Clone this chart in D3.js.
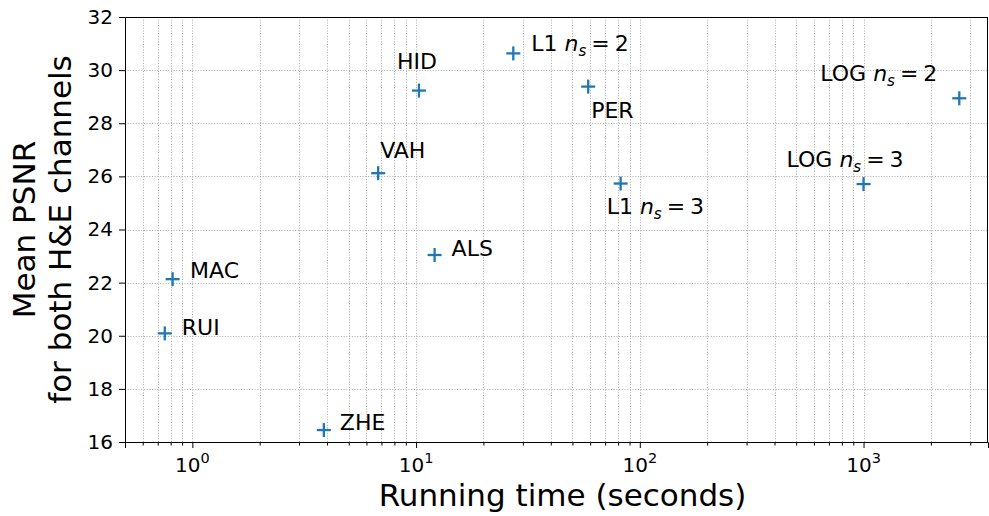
<!DOCTYPE html>
<html><head><meta charset="utf-8">
<script src="https://cdn.jsdelivr.net/npm/d3@7"></script>
<style>body{margin:0;background:#fff;} svg{display:block;font-family:"DejaVu Sans",sans-serif;}</style>
</head><body><svg id="c" width="989" height="516"></svg>
<script>
// ---- data ----
const methods = ["RUI", "MAC", "ZHE", "VAH", "HID", "ALS", "L1 $n_s=2$", "PER", "L1 $n_s=3$", "LOG $n_s=3$", "LOG $n_s=2$"];
const runningTime = [0.753, 0.816, 3.87, 6.77, 10.3, 12.1, 27.2, 58.8, 82.1, 1000, 2679];
const meanPSNR = [20.09, 22.13, 16.45, 26.12, 29.23, 23.04, 30.63, 29.38, 25.73, 25.71, 28.94];
const yTicks = [16, 18, 20, 22, 24, 26, 28, 30, 32];
const xMajorTicks = [1, 10, 100, 1000];
const xDomain = [0.5, 3600];
const yDomain = [16, 32];
// annotation text offsets (px) relative to each marker: [dx, baseline dy]
const labelOffsets = [[17, 1.5], [17.5, -1], [16, 0], [2, -15], [-22, -22], [17, 1], [18, -2], [3, 31], [-14, 30], [-77, -17], [-139, -17]];

const svg = d3.select("#c");
const L = 125, R = 988, T = 17, B = 442;
const x = d3.scaleLog().domain(xDomain).range([L, R]);
const y = d3.scaleLinear().domain(yDomain).range([B, T]);
const blue = "#1f77b4";

// minor ticks
const minor = [];
for (let e = -1; e <= 3; e++) for (let m = 2; m <= 9; m++) {
  const v = m * Math.pow(10, e);
  if (v >= xDomain[0] && v <= xDomain[1]) minor.push(v);
}
const allX = minor.concat(xMajorTicks);

// grid
const grid = svg.append("g").attr("stroke", "#aaaaaa").attr("stroke-width", 1).attr("stroke-dasharray", "1,1.7");
grid.selectAll("line.gx").data(allX).join("line")
  .attr("x1", d => Math.round(x(d)) + 0.5).attr("x2", d => Math.round(x(d)) + 0.5)
  .attr("y1", T).attr("y2", B);
grid.selectAll("line.gy").data(yTicks).join("line")
  .attr("y1", d => Math.round(y(d)) + 0.5).attr("y2", d => Math.round(y(d)) + 0.5)
  .attr("x1", L).attr("x2", R);

// axes
const xAxis = svg.append("g").attr("transform", `translate(0,${B})`)
  .call(d3.axisBottom(x).tickValues(xMajorTicks).tickSize(6).tickFormat(""));
const xAxisMinor = svg.append("g").attr("transform", `translate(0,${B})`)
  .call(d3.axisBottom(x).tickValues(minor).tickSize(3.5).tickFormat(""));
xAxisMinor.select(".domain").remove();
const yAxis = svg.append("g").attr("transform", `translate(${L},0)`)
  .call(d3.axisLeft(y).tickValues(yTicks).tickSize(6).tickPadding(6).tickFormat(d3.format("d")));
[xAxis, xAxisMinor, yAxis].forEach(g => {
  g.selectAll("line").attr("stroke", "#000").attr("stroke-width", 1);
  g.select(".domain").attr("stroke", "#000");
});
yAxis.selectAll("text").attr("font-size", 20).attr("font-family", "DejaVu Sans").attr("fill", "#000");

// x tick labels with superscripts
const xl = svg.append("g");
xMajorTicks.forEach(v => {
  const t = xl.append("text").attr("x", x(v)).attr("y", B + 30).attr("text-anchor", "middle")
    .attr("font-size", 20).attr("fill", "#000");
  t.append("tspan").text("10");
  t.append("tspan").attr("font-size", 14.5).attr("dy", -9).text(String(Math.round(Math.log10(v))));
});

// frame
svg.append("rect").attr("x", L + 0.5).attr("y", T + 0.5).attr("width", R - L - 1).attr("height", B - T)
  .attr("fill", "none").attr("stroke", "#000").attr("stroke-width", 1);

// markers
const pts = svg.append("g").attr("stroke", blue).attr("stroke-width", 2.3);
runningTime.forEach((t, i) => {
  const cx = x(t), cy = y(meanPSNR[i]), h = 7;
  pts.append("line").attr("x1", cx - h).attr("x2", cx + h).attr("y1", cy).attr("y2", cy);
  pts.append("line").attr("x1", cx).attr("x2", cx).attr("y1", cy - h).attr("y2", cy + h);
});

// annotations
const ann = svg.append("g").attr("font-size", 22).attr("fill", "#000");
methods.forEach((m, i) => {
  const cx = x(runningTime[i]) + labelOffsets[i][0];
  const cy = y(meanPSNR[i]) + labelOffsets[i][1];
  const t = ann.append("text").attr("x", cx).attr("y", cy);
  const mm = m.match(/^(.*?)\$n_s=(\d)\$$/);
  if (mm) {
    t.append("tspan").text(mm[1]);
    t.append("tspan").attr("font-style", "italic").text("n");
    t.append("tspan").attr("font-style", "italic").attr("font-size", 15).attr("dy", 5).text("s");
    t.append("tspan").attr("dy", -5).attr("dx", 5).text("=");
    t.append("tspan").attr("dx", 5).text(mm[2]);
  } else {
    t.text(m);
  }
});

// axis titles
svg.append("text").attr("x", (L + R) / 2 + 6).attr("y", 506).attr("text-anchor", "middle")
  .attr("font-size", 31).attr("fill", "#000").text("Running time (seconds)");
const yl = svg.append("text").attr("transform", `translate(0,${(T + B) / 2}) rotate(-90)`)
  .attr("text-anchor", "middle").attr("font-size", 31).attr("fill", "#000");
yl.append("tspan").attr("x", 0).attr("y", 35).text("Mean PSNR");
yl.append("tspan").attr("x", 0).attr("y", 71).text("for both H&E channels");
</script></body></html>
